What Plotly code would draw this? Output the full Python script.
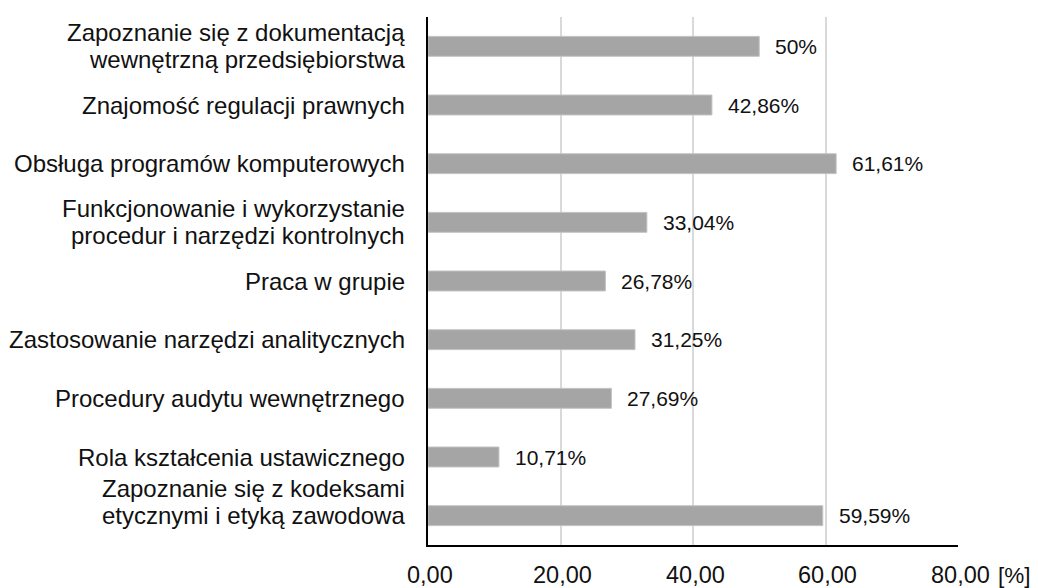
import plotly.graph_objects as go

categories = [
    "Zapoznanie się z dokumentacją<br>wewnętrzną przedsiębiorstwa",
    "Znajomość regulacji prawnych",
    "Obsługa programów komputerowych",
    "Funkcjonowanie i wykorzystanie<br>procedur i narzędzi kontrolnych",
    "Praca w grupie",
    "Zastosowanie narzędzi analitycznych",
    "Procedury audytu wewnętrznego",
    "Rola kształcenia ustawicznego",
    "Zapoznanie się z kodeksami<br>etycznymi i etyką zawodowa",
]
values = [50, 42.86, 61.61, 33.04, 26.78, 31.25, 27.69, 10.71, 59.59]
value_labels = ["50%", "42,86%", "61,61%", "33,04%", "26,78%", "31,25%", "27,69%", "10,71%", "59,59%"]
tick_values = [0, 20, 40, 60, 80]
tick_labels = ["0,00", "20,00", "40,00", "60,00", "80,00"]
unit_label = "[%]"

FONT = "Liberation Sans, Arial, sans-serif"
TXT = "#111111"
LINE_GAP = 27  # px between wrapped label lines

fig = go.Figure()
fig.add_trace(go.Bar(
    x=values,
    y=categories,
    orientation="h",
    width=0.34,
    marker=dict(color="#a5a5a5", line=dict(color="#c4c4c4", width=1)),
    hoverinfo="skip",
))

annotations = []
# value labels
for c, v, t in zip(categories, values, value_labels):
    annotations.append(dict(
        x=v, y=c, xref="x", yref="y", text=t, showarrow=False,
        xanchor="left", yanchor="middle", xshift=14,
        font=dict(family=FONT, size=21, color=TXT),
    ))
# category labels (one annotation per wrapped line)
n = len(categories)
for i, c in enumerate(categories):
    lines = c.split("<br>")
    k = len(lines)
    if i == n - 1 and k > 1:
        offs = [-(k - 1 - j) * LINE_GAP for j in range(k)]  # last one: lines shifted upward
    else:
        offs = [(j - (k - 1) / 2) * LINE_GAP for j in range(k)]
    for line, off in zip(lines, offs):
        annotations.append(dict(
            x=0, y=c, xref="paper", yref="y", text=line, showarrow=False,
            xanchor="right", yanchor="middle", xshift=-21, yshift=-off,
            font=dict(family=FONT, size=24, color=TXT),
        ))
# x tick labels
for tv, tl in zip(tick_values, tick_labels):
    annotations.append(dict(
        x=tv, y=0, xref="x", yref="paper", text=tl, showarrow=False,
        xanchor="center", yanchor="middle", yshift=-30, xshift=2,
        font=dict(family=FONT, size=23.5, color=TXT),
    ))
annotations.append(dict(
    x=1.0, y=0, xref="paper", yref="paper", text=unit_label, showarrow=False,
    xanchor="left", yanchor="middle", xshift=38, yshift=-30,
    font=dict(family=FONT, size=22.5, color=TXT),
))

fig.update_layout(
    width=1030, height=580,
    margin=dict(l=420, r=80, t=9, b=43, autoexpand=False),
    plot_bgcolor="white", paper_bgcolor="white",
    showlegend=False,
    annotations=annotations,
    font=dict(family=FONT, color=TXT),
    xaxis=dict(
        range=[0, 80],
        tickvals=tick_values,
        showticklabels=False,
        showgrid=True, gridcolor="#d9d9d9", gridwidth=2,
        zeroline=False,
        showline=True, linecolor="black", linewidth=1.5,
        ticks="",
        automargin=False,
        fixedrange=True,
    ),
    yaxis=dict(
        type="category",
        categoryorder="array", categoryarray=categories,
        range=[len(categories) - 0.5, -0.5],
        autorange=False,
        showticklabels=False,
        showgrid=False, zeroline=False,
        showline=True, linecolor="black", linewidth=1.5,
        ticks="",
        automargin=False,
        fixedrange=True,
    ),
)

fig.write_html("out.html")
